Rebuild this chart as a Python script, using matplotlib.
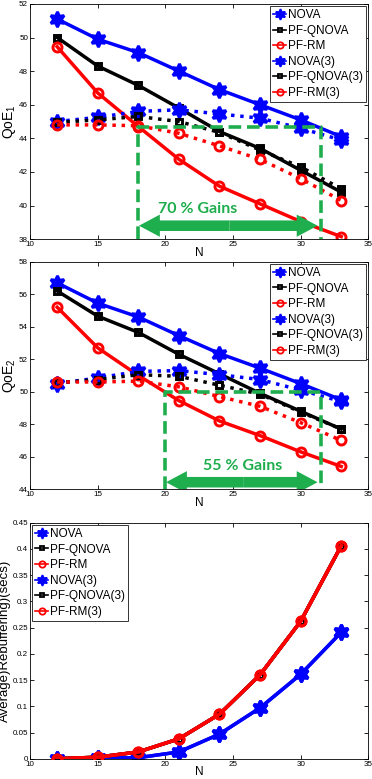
import matplotlib
matplotlib.use("Agg")
import matplotlib.pyplot as plt
from matplotlib.patches import FancyArrowPatch

plt.rcParams['font.family'] = ['Liberation Sans', 'DejaVu Sans']
plt.rcParams['mathtext.default'] = 'regular'

# x values (number of users)
N = [12, 15, 18, 21, 24, 27, 30, 33]
labels = ['NOVA', 'PF-QNOVA', 'PF-RM', 'NOVA(3)', 'PF-QNOVA(3)', 'PF-RM(3)']

# QoE_1 panel
qoe1_nova = [51.1, 49.9, 49.1, 48.0, 46.9, 46.0, 45.1, 44.1]
qoe1_qnova = [50.0, 48.3, 47.15, 45.8, 44.4, 43.4, 42.1, 40.8]
qoe1_rm = [49.45, 46.7, 44.7, 42.75, 41.15, 40.1, 39.05, 38.15]
qoe1_nova3 = [45.0, 45.25, 45.6, 45.7, 45.45, 45.2, 44.6, 43.9]
qoe1_qnova3 = [44.95, 45.1, 45.3, 45.0, 44.35, 43.3, 42.3, 41.0]
qoe1_rm3 = [44.8, 44.8, 44.75, 44.3, 43.55, 42.75, 41.6, 40.3]

# QoE_2 panel
qoe2_nova = [56.7, 55.45, 54.6, 53.45, 52.35, 51.45, 50.5, 49.5]
qoe2_qnova = [56.2, 54.65, 53.65, 52.3, 51.1, 49.9, 48.8, 47.7]
qoe2_rm = [55.2, 52.7, 51.0, 49.45, 48.2, 47.3, 46.3, 45.4]
qoe2_nova3 = [50.5, 50.85, 51.25, 51.3, 51.05, 50.75, 50.1, 49.4]
qoe2_qnova3 = [50.55, 50.75, 51.05, 50.95, 50.4, 49.85, 48.75, 47.7]
qoe2_rm3 = [50.6, 50.6, 50.65, 50.3, 49.7, 49.1, 48.1, 47.0]

# average rebuffering panel
reb_nova = [0.0, 0.001, 0.002, 0.013, 0.047, 0.097, 0.161, 0.241]
reb_qnova = [0.0, 0.003, 0.013, 0.038, 0.085, 0.160, 0.262, 0.406]
reb_rm = [0.0, 0.003, 0.013, 0.038, 0.085, 0.160, 0.262, 0.406]
reb_nova3 = [0.0, 0.001, 0.002, 0.013, 0.047, 0.097, 0.161, 0.241]
reb_qnova3 = [0.0, 0.003, 0.013, 0.038, 0.085, 0.160, 0.262, 0.406]
reb_rm3 = [0.0, 0.003, 0.013, 0.038, 0.085, 0.160, 0.262, 0.406]

# gain annotations: (box x start, box x end, box top y, arrow y, text, text x, text y)
gain1 = (18, 31.5, 44.65, 38.8, '70 % Gains', 22.4, 39.8)
gain2 = (20, 31.5, 50.0, 44.43, '55 % Gains', 25.7, 45.4)

GREEN = '#1fae4e'
HEX = (6, 1, 0)  # hexagram-like star


def style_of(i, dotted):
    colors = ['blue', 'black', 'red']
    markers = [HEX, 's', 'o']
    sizes = [11, 5, 6.5]
    c = colors[i % 3]
    ls = ':' if (dotted and i >= 3) else '-'
    return dict(color=c, ls=ls, lw=2.5, marker=markers[i % 3], ms=sizes[i % 3],
                mfc='none' if i % 3 != 0 else c, mec=c, mew=2.1)


def draw_panel(ax, series, dotted, ylim, ylabel, ylabel_size, legend_loc, zorders=None):
    for i, ys in enumerate(series):
        st = style_of(i, dotted)
        z = zorders[i] if zorders else 2
        ax.plot(N, ys, label=labels[i], zorder=z, **st)
    ax.set_xlim(10, 35)
    ax.set_ylim(*ylim)
    ax.set_xticks([10, 15, 20, 25, 30, 35])
    ax.tick_params(direction='in', top=True, right=True, labelsize=5.8, length=3,
                   width=0.6, pad=1.5)
    for s in ax.spines.values():
        s.set_linewidth(0.6)
    ax.set_xlabel('N', fontsize=8.5, labelpad=-1)
    ax.set_ylabel(ylabel, fontsize=ylabel_size, labelpad=1)
    leg = ax.legend(loc=legend_loc, fontsize=8.5, handlelength=1.1, handletextpad=0.15,
                    labelspacing=0.3, borderpad=0.25, borderaxespad=0.2,
                    fancybox=False, edgecolor='#333333', framealpha=1)
    leg.get_frame().set_linewidth(0.7)
    for h in leg.get_lines():
        h.set_markersize(h.get_markersize() * 0.7)
        h.set_markeredgewidth(1.3)
        h.set_linestyle('-')
        h.set_linewidth(1.2)


def draw_gain(ax, g, ybottom):
    x0, x1, ytop, yarr, txt, tx, ty = g
    ax.plot([x0, x0, x1, x1], [ybottom, ytop, ytop, ybottom], color=GREEN, lw=2.6,
            ls=(0, (3.5, 1.6)), zorder=5, clip_on=False)
    xm = (x0 + x1) / 2
    for xe in (x0 + 0.05, x1 - 0.25):
        arr = FancyArrowPatch((xm, yarr), (xe, yarr),
                              arrowstyle='simple,head_length=0.75,head_width=0.8,tail_width=0.38',
                              mutation_scale=20, color=GREEN, lw=0, shrinkA=0, shrinkB=0,
                              zorder=6)
        ax.add_patch(arr)
    ax.text(tx, ty, txt, color=GREEN, fontsize=11.5, fontweight='bold', family='Lato',
            ha='center', va='center', zorder=6)


fig = plt.figure(figsize=(3.72, 7.79), dpi=100)
ax1 = fig.add_axes([0.081, 0.693, 0.909, 0.302])
ax2 = fig.add_axes([0.081, 0.372, 0.909, 0.292])
ax3 = fig.add_axes([0.081, 0.026, 0.909, 0.303])

draw_panel(ax1, [qoe1_nova, qoe1_qnova, qoe1_rm, qoe1_nova3, qoe1_qnova3, qoe1_rm3],
           True, (38, 52), 'QoE$_1$', 10, 'upper right')
draw_gain(ax1, gain1, 38)

draw_panel(ax2, [qoe2_nova, qoe2_qnova, qoe2_rm, qoe2_nova3, qoe2_qnova3, qoe2_rm3],
           True, (44, 58), 'QoE$_2$', 10, 'upper right')
draw_gain(ax2, gain2, 44)

draw_panel(ax3, [reb_nova, reb_qnova, reb_rm, reb_nova3, reb_qnova3, reb_rm3],
           False, (0, 0.45), 'Average)Rebuffering)(secs)', 9.5, 'upper left',
           zorders=[2, 2, 3, 2, 2, 3])
ax3.set_yticks([0, 0.05, 0.1, 0.15, 0.2, 0.25, 0.3, 0.35, 0.4, 0.45])
ax3.set_yticklabels(['0', '0.05', '0.1', '0.15', '0.2', '0.25', '0.3', '0.35', '0.4', '0.45'])

fig.savefig('out.png', dpi=100)
